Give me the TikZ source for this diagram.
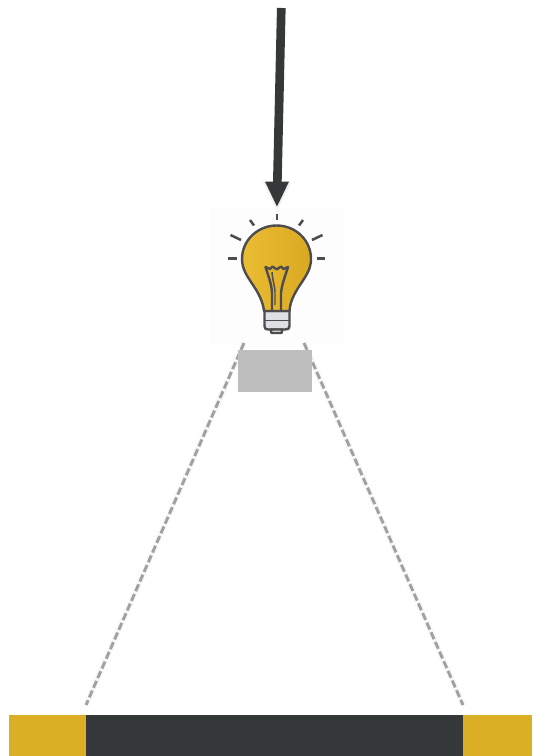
\documentclass[tikz,border=0pt]{standalone}
\usetikzlibrary{arrows.meta}
\definecolor{darkc}{HTML}{343839}
\definecolor{goldc}{HTML}{DAAF25}
\definecolor{bulbl}{HTML}{EBBD33}
\definecolor{bulbr}{HTML}{D9A922}
\definecolor{linec}{HTML}{4D4D4F}
\definecolor{dashc}{HTML}{9FA2A2}
\definecolor{boxc}{HTML}{BEBEBE}
\definecolor{basec}{HTML}{DDE1E3}
\tikzset{
  ray/.style={draw=linec,line width=1.9pt,line cap=butt},
  bulbline/.style={draw=linec,line width=1.8pt,line join=round},
  beam/.style={draw=dashc,line width=2.2pt,dash pattern=on 5.6pt off 2.3pt,line cap=butt},
  beamshadow/.style={draw=black!2.5,line width=4.5pt}
}
\begin{document}
\begin{tikzpicture}[x=0.75pt,y=-0.75pt]
\useasboundingbox (0,0) rectangle (532,756);
\fill[white] (0,0) rectangle (532,756);
\fill[black!0.6] (210,208) rectangle (343,345);
% named anchors
\coordinate (arrowstart) at (281.3,8);
\coordinate (arrowneck) at (277.3,184);
\coordinate (beamLtop) at (244,343);
\coordinate (beamLbot) at (86,705);
\coordinate (beamRtop) at (304,343);
\coordinate (beamRbot) at (463,705);
% bar
\fill[goldc] (9,715) rectangle (86,756);
\fill[darkc] (86,715) rectangle (463,756);
\fill[goldc] (463,715) rectangle (532,756);
% beams
\draw[beamshadow] (beamLtop) -- (beamLbot);
\draw[beamshadow] (beamRtop) -- (beamRbot);
\draw[beam] (beamLtop) -- (beamLbot);
\draw[beam] (beamRtop) -- (beamRbot);
% grey box
\fill[boxc] (238,350) rectangle (312,392);
% arrow
\fill[black!3] (262,182) -- (292,182) -- (277,211) -- cycle;
\fill[black!7] (263.5,182) -- (290.5,182) -- (277,208.5) -- cycle;
\draw[darkc,line width=6.5pt] (arrowstart) -- (arrowneck);
\fill[darkc] (265,181.5) -- (289,181.5) -- (277,206.5) -- cycle;
% rays
\draw[ray] (277,213.5) -- (277,220);
\draw[ray] (250,220) -- (254,225.5);
\draw[ray] (303,220) -- (299,225.5);
\draw[ray] (230.5,235) -- (241,240);
\draw[ray] (322.5,235) -- (312,240);
\draw[ray] (228,258.5) -- (236.5,258.5);
\draw[ray] (316.5,258.5) -- (325,258.5);
% base
\draw[bulbline,fill=basec] (264.5,311) -- (289.5,311) -- (289.5,326) .. controls (289.5,329) and (288,329.5) .. (285,329.5) -- (268.5,329.5) .. controls (265.5,329.5) and (264.5,329) .. (264.5,326) -- cycle;
\draw[draw=linec,line width=1.3pt] (264.5,320.5) -- (289.5,320.5);
\draw[bulbline,fill=basec] (270.5,329.5) -- (282.5,329.5) -- (281.5,333) -- (271.5,333) -- cycle;
% glass
\draw[bulbline,left color=bulbl,right color=bulbr]
  (264,311) .. controls (263,302) and (259,294) .. (253,285)
  .. controls (247,276) and (242,269) .. (242,259)
  .. controls (242,240) and (258,225.5) .. (276.7,225.5)
  .. controls (295.5,225.5) and (311,240) .. (311,259)
  .. controls (311,269) and (306,276) .. (300,285)
  .. controls (294,294) and (290,302) .. (289.5,311) -- cycle;
% filament
\draw[bulbline] (272,311) -- (272,293) .. controls (271.5,284) and (269,278) .. (265.5,267)
  -- (270,269) -- (272.5,266.5) -- (276.7,269.5) -- (281,266.5) -- (283.5,269) -- (288,267)
  .. controls (284.5,278) and (282,284) .. (281,293) -- (281,311);
\draw[bulbline,line width=1.1pt] (272,272) .. controls (272.5,280) and (274.5,285) .. (275,291) -- (275,305);
\end{tikzpicture}
\end{document}
